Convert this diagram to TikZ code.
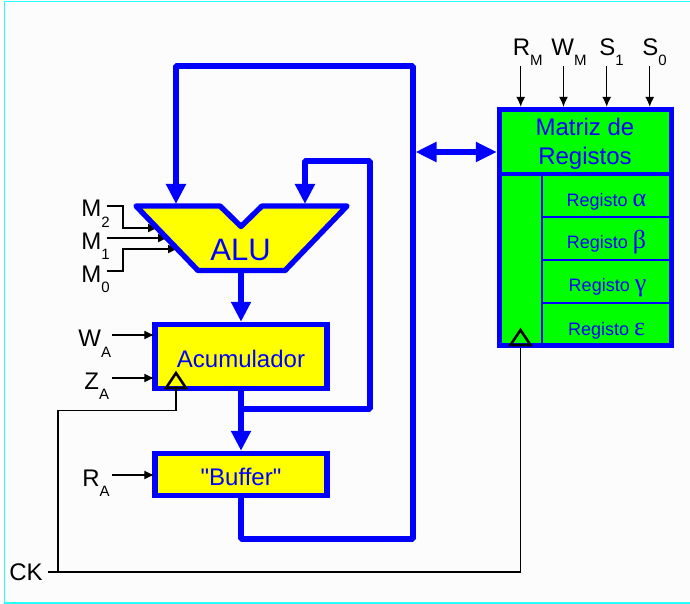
\documentclass[tikz,border=0pt]{standalone}
\usepackage{fontspec}
\setmainfont{Liberation Sans}
\newfontfamily\greekfont{Liberation Serif}
\newfontfamily\plainfont{Liberation Sans}
\usetikzlibrary{arrows.meta}
\definecolor{blockyellow}{RGB}{255,255,0}
\definecolor{framecyan}{RGB}{40,255,255}
\newcommand{\sigtxt}[2]{#1\raisebox{-5.2pt}{\fontsize{7.5}{8}\selectfont #2}}
\tikzset{
	bus/.style={draw=blue, line width=3pt, line join=bevel},
	busarrow/.style={bus, -{Triangle[length=10pt, width=9.5pt]}},
	ctl/.style={draw=black, line width=0.6pt, -{Latex[length=5pt, width=4.5pt]}},
	wire/.style={draw=black, line width=0.6pt},
	block/.style={draw=blue, line width=2.7pt, fill=blockyellow, text=blue, inner sep=0pt,
		font=\fontsize{12}{12}\selectfont, text depth=0pt, text height=11pt},
	clk/.style={draw=black, line width=1.3pt, fill=none, line join=miter},
	sig/.style={anchor=base west, inner sep=0pt, font=\fontsize{12}{12}\selectfont},
	regtxt/.style={anchor=base, inner sep=0pt, text=blue, font=\fontsize{9}{9}\selectfont},
	cell/.style={draw=blue, line width=1pt}
}
\begin{document}
\begin{tikzpicture}[x=0.5pt, y=-0.5pt]
		\useasboundingbox (0,0) rectangle (690,604);
		\fill [white!99!black] (4.5,1.5) rectangle (690,603);
		\draw [framecyan, line width=0.8pt] (690,1.5) -- (4.5,1.5) -- (4.5,603) -- (690,603);

		\coordinate (mtwo) at (107,206);
		\coordinate (mone) at (107,238);
		\coordinate (mzero) at (107,271);
		\coordinate (mtwoend) at (158,228);
		\coordinate (moneend) at (168,238);
		\coordinate (mzeroend) at (178,249);
		\draw [ctl] (mtwo) -- (123,206) -- (123,228) -- (mtwoend);
		\draw [ctl] (mone) -- (moneend);
		\draw [ctl] (mzero) -- (123,271) -- (123,249) -- (mzeroend);

		\draw [blue, line width=2.7pt, fill=blockyellow, line join=round] (136,206) -- (220,206) -- (241,226.5) -- (262,206) -- (347,206) -- (285,270.5) -- (198,270.5) -- cycle;
		\node (alu) at (240.5,260) [anchor=base, inner sep=0pt, text=blue, font=\fontsize{15.5}{16}\selectfont] {ALU};
		\coordinate (aluin) at (176,204);
		\coordinate (alufb) at (305,204);
		\coordinate (aluout) at (241,271);

		\node (acum) at (241,356.35) [block, minimum width=86pt, minimum height=31.85pt] {Acumulador};
		\node (bufr) at (241,474.5) [block, minimum width=86pt, minimum height=21pt] {{\plainfont "Buffer"}};
		\node (mat) at (585.5,227.5) [block, minimum width=86pt, minimum height=118pt, fill=green] {};

		\coordinate (matl) at (mat.west |- 0,174);
		\coordinate (matr) at (mat.east |- 0,174);
		\draw [blue, line width=2pt] (matl) -- (matr);
		\coordinate (cellt) at (542,174);
		\draw [cell] (cellt) -- (542,345);
		\draw [cell] (542,217) -- (671,217);
		\draw [cell] (542,260) -- (671,260);
		\draw [cell] (542,303) -- (671,303);

		\node (mtxt) at (585,135.7) [regtxt, font=\fontsize{12}{12}\selectfont] {Matriz de};
		\node (rtxt) at (585,164.3) [regtxt, font=\fontsize{12}{12}\selectfont] {Registos};
		\node (ra) at (606.5,206) [regtxt] {Registo {\greekfont\fontsize{13}{13}\selectfont α}};
		\node (rb) at (606.5,249) [regtxt] {Registo {\greekfont\fontsize{13}{13}\selectfont β}};
		\node (rc) at (607.5,292) [regtxt] {Registo {\greekfont\fontsize{13}{13}\selectfont γ}};
		\node (re) at (606.5,335) [regtxt] {Registo {\greekfont\fontsize{13}{13}\selectfont ε}};

		\draw [busarrow] (aluout) -- (acum.north);
		\draw [busarrow] (acum.south) -- (bufr.north);
		\coordinate (fbstart) at (241,409);
		\coordinate (busv) at (413,152);
		\draw [busarrow] (fbstart) -- (370,409) -- (370,161) -- (305,161) -- (alufb);
		\draw [busarrow] (bufr.south) -- (241,539) -- (413,539) -- (413,66) -- (176,66) -- (aluin);
		\draw [draw=blue, line width=3.2pt, {Triangle[length=10.5pt, width=9.5pt]}-{Triangle[length=10.5pt, width=9.5pt]}] (busv) ++(2.5,0) -- (mat.west |- busv);

		\node (rm) at (512.5,55.5) [sig] {\sigtxt{R}{M}};
		\node (wm) at (551,55.5) [sig] {\sigtxt{W}{M}};
		\node (sone) at (599,55.5) [sig] {\sigtxt{S}{1}};
		\node (szero) at (642,55.5) [sig] {\sigtxt{S}{0}};
		\coordinate (rmin) at (520.7,66);
		\coordinate (wmin) at (563.5,66);
		\coordinate (sonein) at (606.7,66);
		\coordinate (szeroin) at (649.7,66);
		\draw [ctl] (rmin) -- (rmin |- mat.north);
		\draw [ctl] (wmin) -- (wmin |- mat.north);
		\draw [ctl] (sonein) -- (sonein |- mat.north);
		\draw [ctl] (szeroin) -- (szeroin |- mat.north);

		\node (mtwot) at (81,217) [sig] {\sigtxt{M}{2}};
		\node (monet) at (81,249.5) [sig] {\sigtxt{M}{1}};
		\node (mzerot) at (81,282.5) [sig] {\sigtxt{M}{0}};
		\node (wat) at (78,346.7) [sig] {\sigtxt{W}{A}};
		\node (zat) at (84,389.5) [sig] {\sigtxt{Z}{A}};
		\node (rat) at (82,486.5) [sig] {\sigtxt{R}{A}};
		\node (ck) at (9,580) [sig] {CK};

		\coordinate (wain) at (112,335);
		\coordinate (zain) at (112,378);
		\coordinate (rain) at (112,475);
		\draw [ctl, shorten >=-1pt] (wain) -- (wain -| acum.west);
		\draw [ctl, shorten >=-1pt] (zain) -- (zain -| acum.west);
		\draw [ctl, shorten >=-1pt] (rain) -- (rain -| bufr.west);

		\draw [clk] (166,388) -- (176,373) -- (186,388) -- cycle;
		\draw [clk] (510.5,345) -- (520.5,330) -- (530.5,345) -- cycle;
		\coordinate (ckin) at (47.5,572);
		\coordinate (ckm) at (520.5,348);
		\coordinate (cka) at (176,389);
		\draw [wire] (ckin) -- (ckm |- ckin) -- (ckm);
		\draw [wire] (58,572) -- (58,410.5) -- (176,410.5) -- (cka);
	\end{tikzpicture}
\end{document}
